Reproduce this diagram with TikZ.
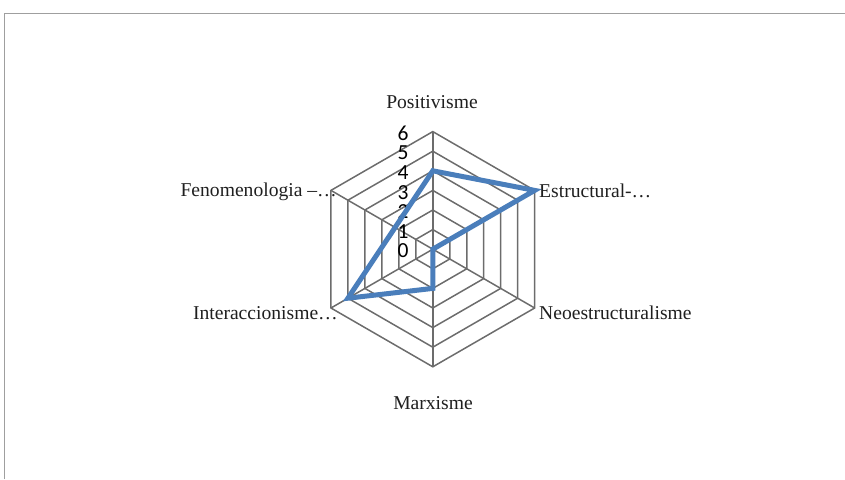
\documentclass[tikz,border=0pt]{standalone}
\usepackage{fontspec}
\setmainfont{Liberation Serif}
\newfontfamily\digitfont{Carlito}
\begin{document}
\begin{tikzpicture}[x=1pt,y=1pt,
  gridline/.style={draw=gray!85!black, line width=1.5pt},
  frameline/.style={draw=gray!75, line width=1.2pt},
  series/.style={draw={rgb,255:red,74;green,126;blue,187}, line width=5pt, line join=miter},
  axislabel/.style={inner sep=0pt, font=\fontsize{19.6}{22}\selectfont, text=black!88},
  ticklabel/.style={inner sep=0pt, anchor=east, font=\digitfont\fontsize{21.5}{23}\selectfont, text=black}]
  \def\u{19.6}
  % canvas and frame
  \useasboundingbox (-432.8,-229.8) rectangle (412.2,249.2);
  \draw[frameline] (-428.3,-229.8) -- (-428.3,235.7) -- (412.2,235.7);
  % hexagonal grid rings
  \foreach \k in {1,...,6}{
    \draw[gridline] (90:\k*\u) -- (30:\k*\u) -- (-30:\k*\u) -- (-90:\k*\u)
      -- (-150:\k*\u) -- (150:\k*\u) -- cycle;
  }
  % spokes
  \coordinate (c) at (0,0);
  \foreach \a/\n in {90/pos,30/est,-30/neo,-90/mar,-150/int,150/fen}{
    \coordinate (ax-\n) at (\a:6*\u);
    \draw[gridline] (c) -- (ax-\n);
  }
  % value scale
  \foreach \k in {0,...,6}{
    \node[ticklabel] (t\k) at (-24,\k*\u-1.8) {\k};
  }
  % data series
  \coordinate (d-pos) at (90:4*\u);
  \coordinate (d-est) at (30:6*\u);
  \coordinate (d-neo) at (-30:0);
  \coordinate (d-mar) at (-90:2*\u);
  \coordinate (d-int) at (-150:5*\u);
  \coordinate (d-fen) at (150:2.22*\u);
  \draw[series] (d-pos) -- (d-est) -- (d-neo) -- (d-mar) -- (d-int) -- (d-fen) -- cycle;
  % category labels
  \node[axislabel] (l-pos) at (-0.8,147.2) {Positivisme};
  \node[axislabel, anchor=west] (l-est) at (106.2,58.2) {Estructural-\ldots};
  \node[axislabel, anchor=west] (l-neo) at (106.2,-63.8) {Neoestructuralisme};
  \node[axislabel] (l-mar) at (0.2,-153.8) {Marxisme};
  \node[axislabel, anchor=east] (l-int) at (-94.8,-63.8) {Interaccionisme\ldots};
  \node[axislabel, anchor=east] (l-fen) at (-95.8,57.2) {Fenomenologia –\ldots};
\end{tikzpicture}
\end{document}
